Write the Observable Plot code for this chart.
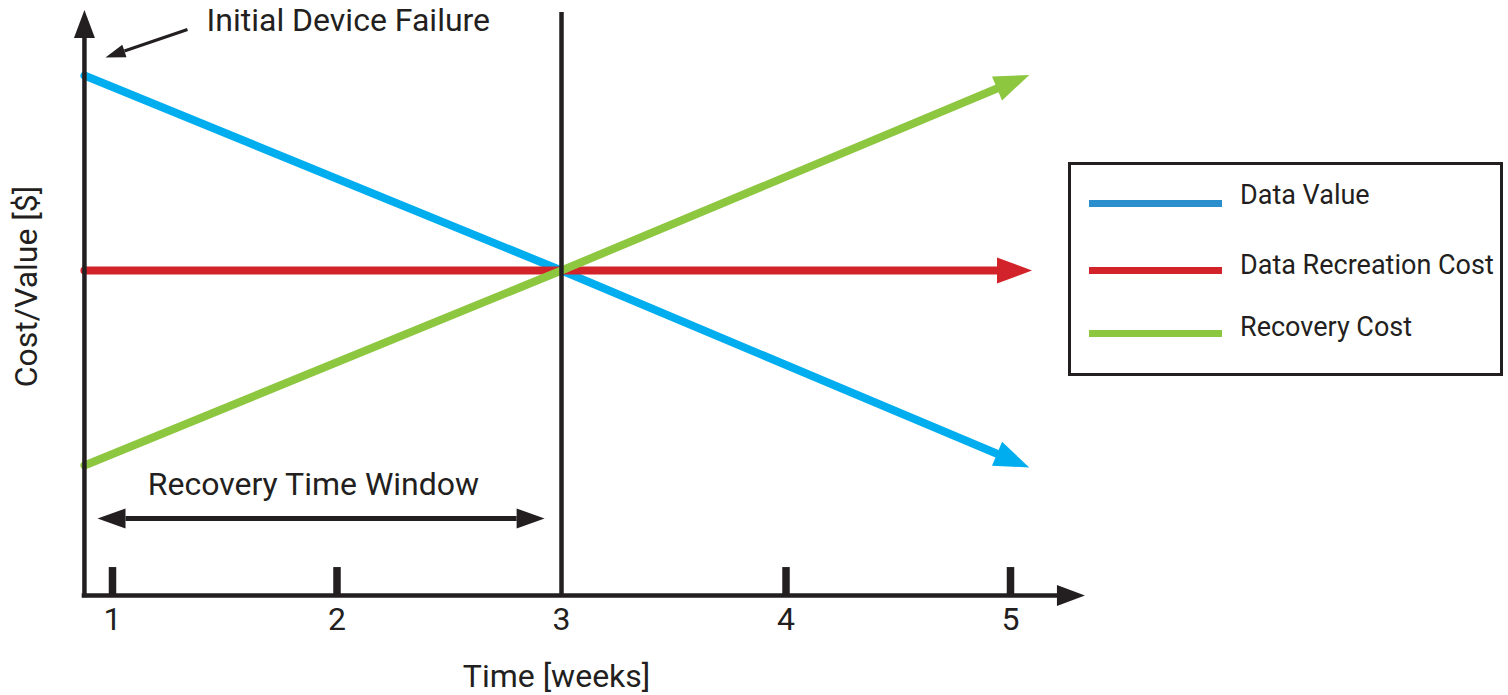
<!DOCTYPE html>
<html><head><meta charset="utf-8">
<script src="https://cdn.jsdelivr.net/npm/d3@7"></script>
<script src="https://cdn.jsdelivr.net/npm/@observablehq/plot@0.6"></script>
<style>
html,body{margin:0;padding:0;background:#fff;overflow:hidden}
#wrap{position:relative;width:1508px;height:695px;font-family:Roboto,sans-serif;color:#231f20}
#wrap svg{display:block}
.lg-box{position:absolute;left:1068px;top:162px;width:429px;height:208px;border:3px solid #231f20}
.lg-line{position:absolute;left:1089px;width:133px;height:7px}
.lg-text{position:absolute;left:1240px;font-size:27px;line-height:27px;white-space:nowrap}
</style>
</head><body><div id="wrap"></div>
<script>
// ---- data ----
const weeks = [0.875, 3, 4.94];
const dataValue = [8, 5, 2.18];
const recreationCost = [5, 5, 5];
const recoveryCost = [2, 5, 7.8];
const seriesNames = ["Data Value", "Data Recreation Cost", "Recovery Cost"];
const seriesValues = [dataValue, recreationCost, recoveryCost];
const lineColors = ["#00aeef", "#d2232a", "#8dc63f"];
const legendColors = ["#2b8fce", "#d2232a", "#8dc63f"];
const xTicks = [1, 2, 3, 4, 5];
const tickMarks = [1, 2, 4, 5];
const decisionWeek = [3];
const windowArrow = [{x1: 1.058, y1: 1.185, x2: 2.8, y2: 1.185}];
const pointerArrow = [{x1: 1.334, y1: 8.708, x2: 1.053, y2: 8.377}];
const failureLabel = [{x: 1.419, y: 8.846, text: "Initial Device Failure"}];
const windowLabel = [{x: 1.895, y: 1.708, text: "Recovery Time Window"}];
const xTitle = [{x: 2.978, y: -1.25, text: "Time [weeks]"}];
const yTitle = [{x: 0.617, y: 4.754, text: "Cost/Value [$]"}];
const axisOrigin = 0.875;
const xAxisEnd = 5.209;
const yAxisEnd = 8.57;
const dark = "#231f20";

const rows = seriesNames.flatMap((name, i) =>
  weeks.map((w, j) => ({series: name, week: w, value: seriesValues[i][j]})));

const chart = Plot.plot({
  width: 1508, height: 695,
  marginTop: 10, marginBottom: 100, marginLeft: 0, marginRight: 0,
  style: {fontFamily: "Roboto", fontSize: "32px", color: dark, background: "white"},
  x: {domain: [1, 5], range: [112, 1010], ticks: xTicks, tickSize: 0, tickPadding: 12, label: null, tickFormat: d => String(d)},
  y: {domain: [0, 9], axis: null},
  marks: [
    ...seriesNames.map((name, i) => Plot.line(rows.filter(d => d.series === name),
      {x: "week", y: "value", stroke: lineColors[i], strokeWidth: 8, ariaDescription: "series-" + i})),
    Plot.ruleX(tickMarks, {y1: 0, y2: 0.43, stroke: dark, strokeWidth: 7.5}),
    Plot.ruleY([0], {x1: axisOrigin, x2: xAxisEnd, stroke: dark, strokeWidth: 4.5, strokeLinecap: "square", ariaDescription: "axis-x"}),
    Plot.ruleX([axisOrigin], {y1: 0, y2: yAxisEnd, stroke: dark, strokeWidth: 4.5, strokeLinecap: "square", ariaDescription: "axis-y"}),
    Plot.ruleX(decisionWeek, {y1: 0, y2: 8.97, stroke: dark, strokeWidth: 4.5}),
    Plot.link(windowArrow, {x1: "x1", y1: "y1", x2: "x2", y2: "y2", stroke: dark, strokeWidth: 5, ariaDescription: "window"}),
    Plot.link(pointerArrow, {x1: "x1", y1: "y1", x2: "x2", y2: "y2", stroke: dark, strokeWidth: 3, ariaDescription: "pointer"}),
    Plot.text(failureLabel, {x: "x", y: "y", text: "text", textAnchor: "start", fontSize: 32, fill: dark}),
    Plot.text(windowLabel, {x: "x", y: "y", text: "text", textAnchor: "middle", fontSize: 32, fill: dark}),
    Plot.text(xTitle, {x: "x", y: "y", text: "text", textAnchor: "middle", fontSize: 32, fill: dark}),
    Plot.text(yTitle, {x: "x", y: "y", text: "text", textAnchor: "middle", rotate: -90, fontSize: 32, fill: dark})
  ]
});

// arrowhead markers
const svg = d3.select(chart.tagName.toLowerCase() === "svg" ? chart : chart.querySelector("svg"));
const defs = svg.insert("defs", ":first-child");
function addMarker(id, color, len, width) {
  const m = defs.append("marker").attr("id", id)
    .attr("markerUnits", "userSpaceOnUse").attr("orient", "auto-start-reverse")
    .attr("viewBox", `0 ${-width / 2} ${len} ${width}`)
    .attr("markerWidth", len).attr("markerHeight", width)
    .attr("refX", 0).attr("refY", 0).attr("overflow", "visible");
  m.append("path").attr("d", `M0,${-width / 2}L${len},0L0,${width / 2}Z`).attr("fill", color);
}
lineColors.forEach((c, i) => addMarker("m-s" + i, c, 35, 26));
addMarker("m-axis", dark, 28, 21);
addMarker("m-window", dark, 28, 20);
addMarker("m-pointer", dark, 20, 13);
lineColors.forEach((c, i) => svg.selectAll(`g[aria-description="series-${i}"] path`).attr("marker-end", `url(#m-s${i})`));
svg.selectAll('g[aria-description="axis-x"] line, g[aria-description="axis-y"] line').attr("marker-end", "url(#m-axis)");
svg.selectAll('g[aria-description="window"] path').attr("marker-start", "url(#m-window)").attr("marker-end", "url(#m-window)");
svg.selectAll('g[aria-description="pointer"] path').attr("marker-end", "url(#m-pointer)");

const wrap = document.getElementById("wrap");
wrap.appendChild(chart);

// legend
const box = document.createElement("div");
box.className = "lg-box";
wrap.appendChild(box);
const lineTops = [199.5, 266.5, 329.5];
const textTops = [182, 252, 314];
seriesNames.forEach((name, i) => {
  const l = document.createElement("div");
  l.className = "lg-line";
  l.style.top = lineTops[i] + "px";
  l.style.background = legendColors[i];
  wrap.appendChild(l);
  const t = document.createElement("div");
  t.className = "lg-text";
  t.style.top = textTops[i] + "px";
  t.textContent = name;
  wrap.appendChild(t);
});
</script>
</body></html>
